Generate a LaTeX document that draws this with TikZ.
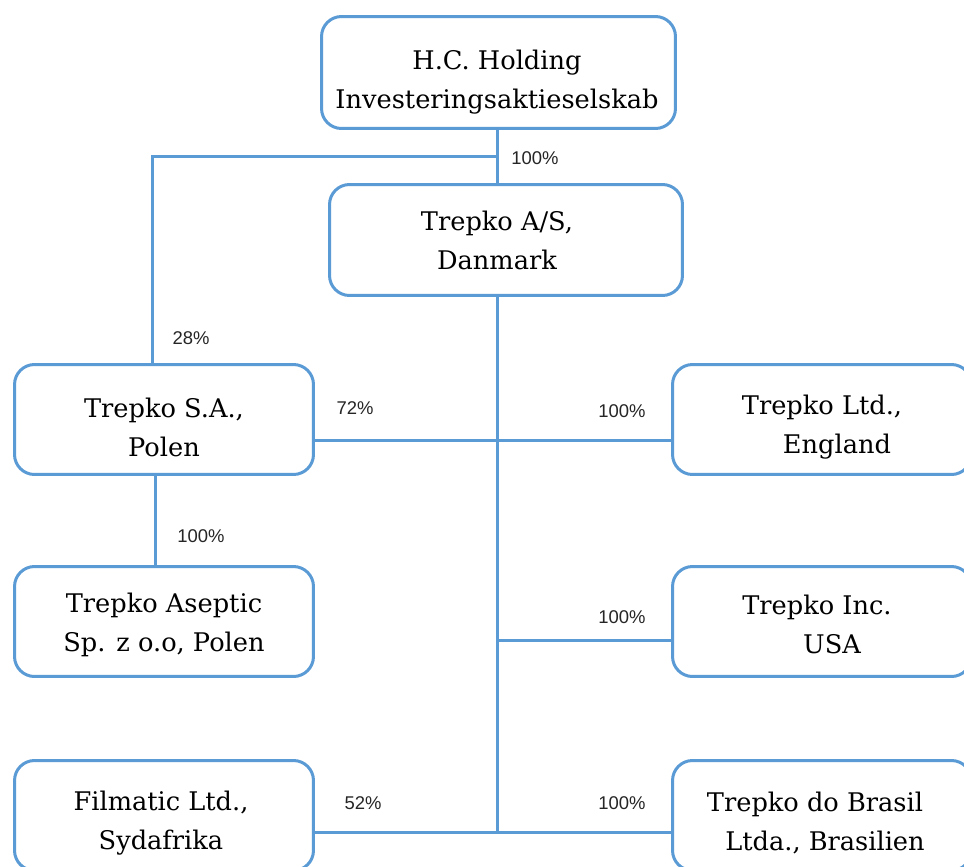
\documentclass[tikz,border=0pt]{standalone}
\usepackage{fontspec}
\setmainfont{DejaVu Serif}
\newfontfamily\labelfont{Liberation Sans}
\definecolor{lineblue}{RGB}{91,155,213}
\begin{document}
\begin{tikzpicture}[x=0.02cm,y=-0.02cm,
  box/.style={draw=lineblue, line width=0.06cm, rounded corners=0.4cm, fill=white, inner sep=0pt},
  smallbox/.style={box, minimum width=5.98cm, minimum height=2.2cm},
  txt/.style={align=center, font=\fontsize{14.6}{22.2}\selectfont, inner sep=0pt},
  conn/.style={draw=lineblue, line width=0.06cm},
  pct/.style={font=\labelfont\fontsize{10.5}{12}\selectfont, inner sep=0pt, text=black!85}]
\clip (0,0) rectangle (964,866);
\fill[white] (0,0) rectangle (964,866);

\node[box, minimum width=7.08cm, minimum height=2.24cm] (hc) at (498.5,72.5) {};
\node[box, minimum width=7.06cm, minimum height=2.22cm] (as) at (506,240) {};
\node[smallbox] (sa) at (164,419.5) {};
\node[smallbox] (ase) at (164,621.5) {};
\node[smallbox] (fil) at (164,815.5) {};
\node[smallbox] (ltd) at (822,419.5) {};
\node[smallbox] (inc) at (822,621.5) {};
\node[smallbox] (bra) at (822,815.5) {};

\node[txt] (hct) at (497,82) {H.C. Holding\\Investeringsaktieselskab};
\node[txt] (ast) at (497,240) {Trepko A/S,\\Danmark};
\node[txt] (sat) at (164,427) {Trepko S.A.,\\Polen};
\node[txt] (aset) at (164,624.5) {Trepko Aseptic\\Sp. z o.o, Polen};
\node[txt] (filt) at (161,823) {Filmatic Ltd.,\\Sydafrika};
\node[txt] (ltdt) at (822,427) {Trepko Ltd.,\\\hspace*{0.6cm}England};
\node[txt] (inct) at (817,624.5) {Trepko Inc.\\\hspace*{0.6cm}USA};
\node[txt] (brat) at (815,823) {Trepko do Brasil\\\hspace*{0.4cm}Ltda., Brasilien};

\coordinate (j1) at (497,156);
\coordinate (j0) at (152,156);
\coordinate (jb) at (497,832);
\coordinate (ji) at (497,640);

\draw[conn] (hc.south -| j1) -- (as.north -| j1);
\draw[conn] (j1) -- (j0) -- (sa.north -| j0);
\draw[conn] (as.south -| j1) -- (jb);
\draw[conn] (sa.east |- 0,440) -- (ltd.west |- 0,440);
\draw[conn] (ji) -- (inc.west |- ji);
\draw[conn] (fil.east |- jb) -- (bra.west |- jb);
\draw[conn] (sa.south -| 155,0) -- (ase.north -| 155,0);

\node[pct] (p1) at (535,158) {100\%};
\node[pct] (p2) at (191,338) {28\%};
\node[pct] (p3) at (355,408) {72\%};
\node[pct] (p4) at (622,411) {100\%};
\node[pct] (p5) at (201,536) {100\%};
\node[pct] (p6) at (622,617) {100\%};
\node[pct] (p7) at (363,803) {52\%};
\node[pct] (p8) at (622,803) {100\%};
\end{tikzpicture}
\end{document}
